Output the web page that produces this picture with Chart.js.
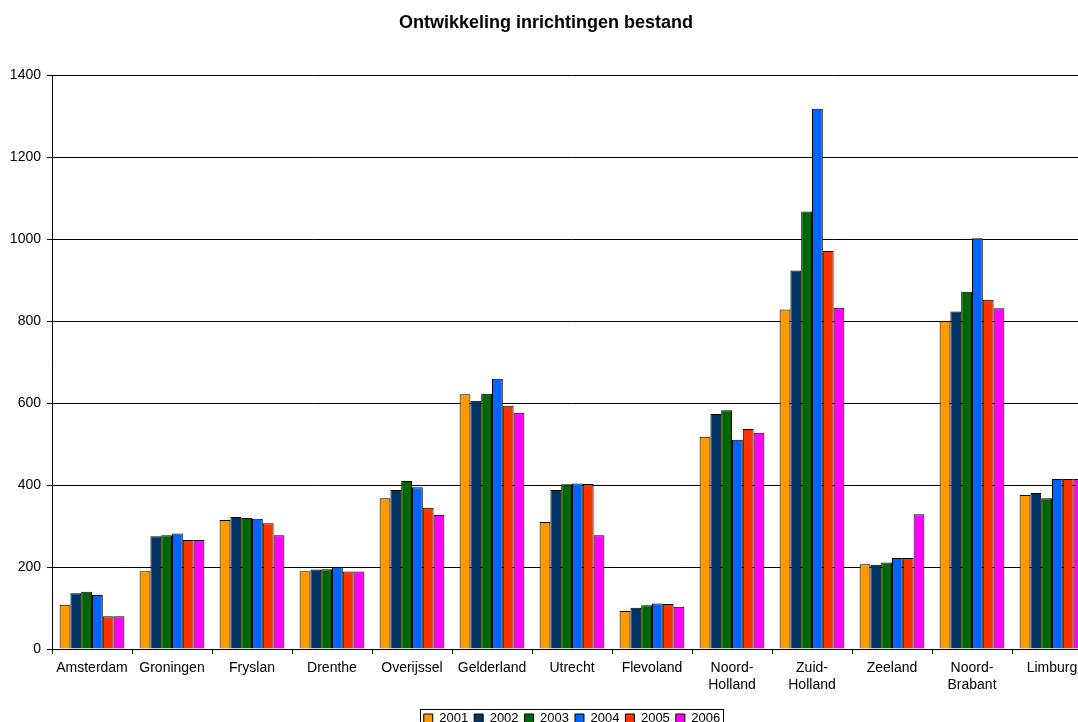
<!DOCTYPE html>
<html>
<head>
<meta charset="utf-8">
<script src="https://cdn.jsdelivr.net/npm/chart.js@4/dist/chart.umd.min.js"></script>
<style>
  html, body { margin: 0; padding: 0; background: #fff; overflow: hidden; }
  #wrap { width: 1100px; height: 735px; }
</style>
</head>
<body>
<div id="wrap"><canvas id="myBarChart" width="1100" height="735"></canvas></div>
<script>
// Ontwikkeling inrichtingen bestand
const regions = ['Amsterdam', 'Groningen', 'Fryslan', 'Drenthe', 'Overijssel', 'Gelderland', 'Utrecht',
    'Flevoland', ['Noord-', 'Holland'], ['Zuid-', 'Holland'], 'Zeeland', ['Noord-', 'Brabant'], 'Limburg'];
const years = ['2001', '2002', '2003', '2004', '2005', '2006'];
const yTicks = [0, 200, 400, 600, 800, 1000, 1200, 1400];

const v2001 = [108, 190, 315, 190, 368, 622, 310, 93, 518, 829, 207, 801, 376];
const v2002 = [136, 275, 322, 194, 388, 606, 388, 101, 574, 924, 206, 824, 381];
const v2003 = [140, 278, 320, 195, 410, 623, 402, 107, 583, 1068, 211, 872, 368];
const v2004 = [132, 282, 318, 200, 395, 660, 404, 111, 511, 1319, 222, 1003, 415];
const v2005 = [80, 266, 307, 189, 345, 594, 403, 110, 537, 972, 222, 853, 415];
const v2006 = [80, 266, 278, 189, 327, 577, 278, 103, 528, 833, 329, 832, 415];

const colors = ['#FF9900', '#003366', '#006600', '#0066FF', '#FF3300', '#FF00FF'];

// frame round the legend, like the original
const legendFrame = {
    id: 'legendFrame',
    afterDraw(chart) {
        const boxes = chart.legend.legendHitBoxes;
        if (!boxes || !boxes.length) return;
        let l = Infinity, t = Infinity, r = -Infinity, b = -Infinity;
        boxes.forEach(function (h) {
            l = Math.min(l, h.left); t = Math.min(t, h.top);
            r = Math.max(r, h.left + h.width); b = Math.max(b, h.top + h.height);
        });
        const ctx = chart.ctx;
        ctx.save();
        ctx.strokeStyle = '#000';
        ctx.lineWidth = 1;
        ctx.strokeRect(Math.round(l - 4) + 0.5, Math.round(t - 3) + 0.5, Math.round(r - l + 6), Math.round(b - t + 6));
        ctx.restore();
    }
};

document.addEventListener('DOMContentLoaded', function () {
    Chart.defaults.font.family = "'Liberation Sans', Arial, sans-serif";
    Chart.defaults.color = '#000';
    const all = [v2001, v2002, v2003, v2004, v2005, v2006];
    const ctx = document.getElementById('myBarChart').getContext('2d');
    const myBarChart = new Chart(ctx, {
        type: 'bar',
        data: {
            labels: regions,
            datasets: years.map(function (y, i) {
                return {
                    label: y,
                    data: all[i],
                    backgroundColor: colors[i],
                    borderColor: '#000',
                    borderWidth: 1,
                    borderSkipped: 'bottom'
                };
            })
        },
        options: {
            responsive: false,
            animation: false,
            layout: { padding: { left: 0, right: 8, top: 0, bottom: 0 } },
            datasets: { bar: { categoryPercentage: 0.81, barPercentage: 1.0 } },
            scales: {
                x: {
                    grid: { offset: true, drawOnChartArea: false, drawTicks: true, tickLength: 5, color: '#000' },
                    border: { color: '#000', width: 1 },
                    ticks: { font: { size: 14 }, padding: 6, maxRotation: 0, autoSkip: false },
                    afterFit: function (s) { s.height = 57; }
                },
                y: {
                    min: 0,
                    max: 1400,
                    afterBuildTicks: function (s) { s.ticks = yTicks.map(function (v) { return { value: v }; }); },
                    grid: { color: '#000', lineWidth: 1, tickLength: 5 },
                    border: { color: '#000', width: 1 },
                    ticks: { font: { size: 14 }, padding: 6, callback: function (v) { return String(v); } },
                    afterFit: function (s) { s.width = 52; }
                }
            },
            plugins: {
                title: {
                    display: true,
                    text: 'Ontwikkeling inrichtingen bestand',
                    font: { size: 18, weight: 'bold' },
                    color: '#000',
                    padding: { top: 12, bottom: 42 }
                },
                legend: {
                    display: true,
                    position: 'bottom',
                    fullSize: false,
                    labels: { boxWidth: 9, boxHeight: 9, padding: 6, font: { size: 13 }, color: '#000' }
                },
                tooltip: { enabled: false }
            }
        },
        plugins: [legendFrame]
    });
});
</script>
</body>
</html>
